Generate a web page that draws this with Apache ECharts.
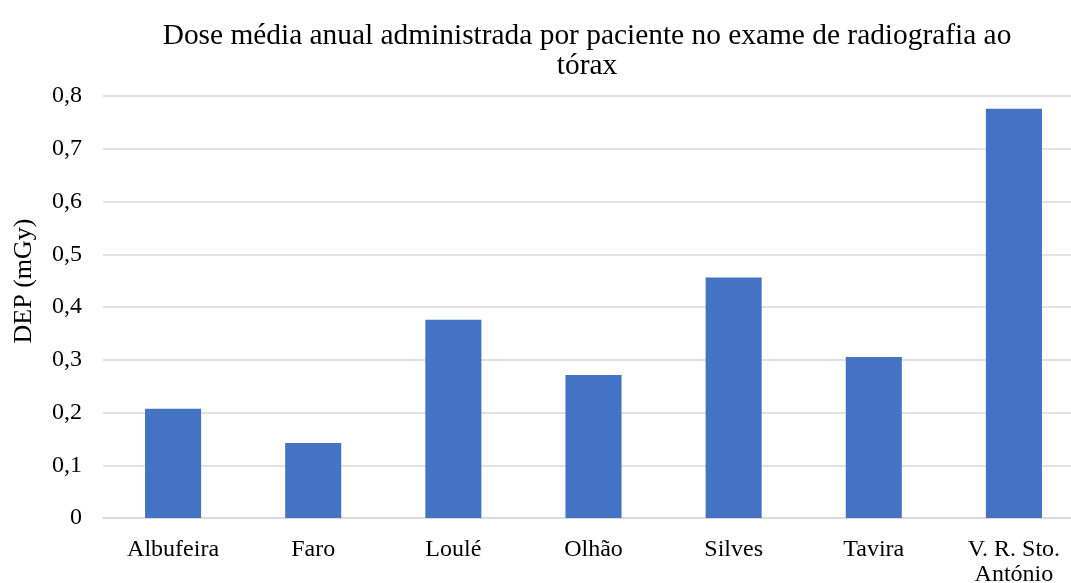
<!DOCTYPE html>
<html>
<head>
<meta charset="utf-8">
<script src="https://cdn.jsdelivr.net/npm/echarts@6/dist/echarts.min.js"></script>
<style>
  html, body { margin: 0; padding: 0; background: #ffffff; overflow: hidden; }
  #chart { width: 1071px; height: 583px; }
</style>
</head>
<body>
<div id="chart"></div>
<script>
// Hospitals / units in the Algarve region
const categories = ['Albufeira', 'Faro', 'Loulé', 'Olhão', 'Silves', 'Tavira', 'V. R. Sto.\nAntónio'];
// Mean annual dose per patient, chest radiography (mGy)
const doseValues = [0.207, 0.142, 0.376, 0.271, 0.456, 0.305, 0.776];
const yTicks = { min: 0, max: 0.8, interval: 0.1 };

const font = '"Liberation Serif", "Times New Roman", serif';
const chart = echarts.init(document.getElementById('chart'));
chart.setOption({
  animation: false,
  backgroundColor: '#ffffff',
  title: {
    text: 'Dose média anual administrada por paciente no exame de radiografia ao\ntórax',
    left: 582,
    textAlign: 'center',
    top: 16,
    textStyle: { fontFamily: font, fontSize: 29.4, fontWeight: 'normal', color: '#000000', lineHeight: 30 }
  },
  // plot area runs slightly past the right edge of the canvas
  grid: { left: 103, right: -13, top: 96, bottom: 65, containLabel: false, outerBoundsMode: 'none' },
  xAxis: {
    type: 'category',
    data: categories,
    axisLine: { lineStyle: { color: '#d9d9d9', width: 1.5 } },
    axisTick: { show: false },
    axisLabel: { fontFamily: font, fontSize: 24, color: '#000000', margin: 19, lineHeight: 25, interval: 0 }
  },
  yAxis: {
    type: 'value',
    min: yTicks.min,
    max: yTicks.max,
    interval: yTicks.interval,
    axisLine: { show: false },
    axisTick: { show: false },
    splitLine: { lineStyle: { color: '#d9d9d9', width: 1.5 } },
    axisLabel: {
      fontFamily: font, fontSize: 24, color: '#000000', margin: 21,
      formatter: v => (Math.round(v * 10) / 10).toString().replace('.', ',')
    }
  },
  graphic: [{
    // vertical y-axis title
    type: 'text',
    x: 24,
    y: 281,
    rotation: Math.PI / 2,
    style: {
      text: 'DEP (mGy)',
      fontFamily: font,
      fontSize: 26,
      fill: '#000000',
      textAlign: 'center',
      textVerticalAlign: 'middle'
    }
  }],
  series: [{
    type: 'bar',
    data: doseValues,
    barWidth: '40%',
    itemStyle: { color: '#4472c4' }
  }]
});
</script>
</body>
</html>
